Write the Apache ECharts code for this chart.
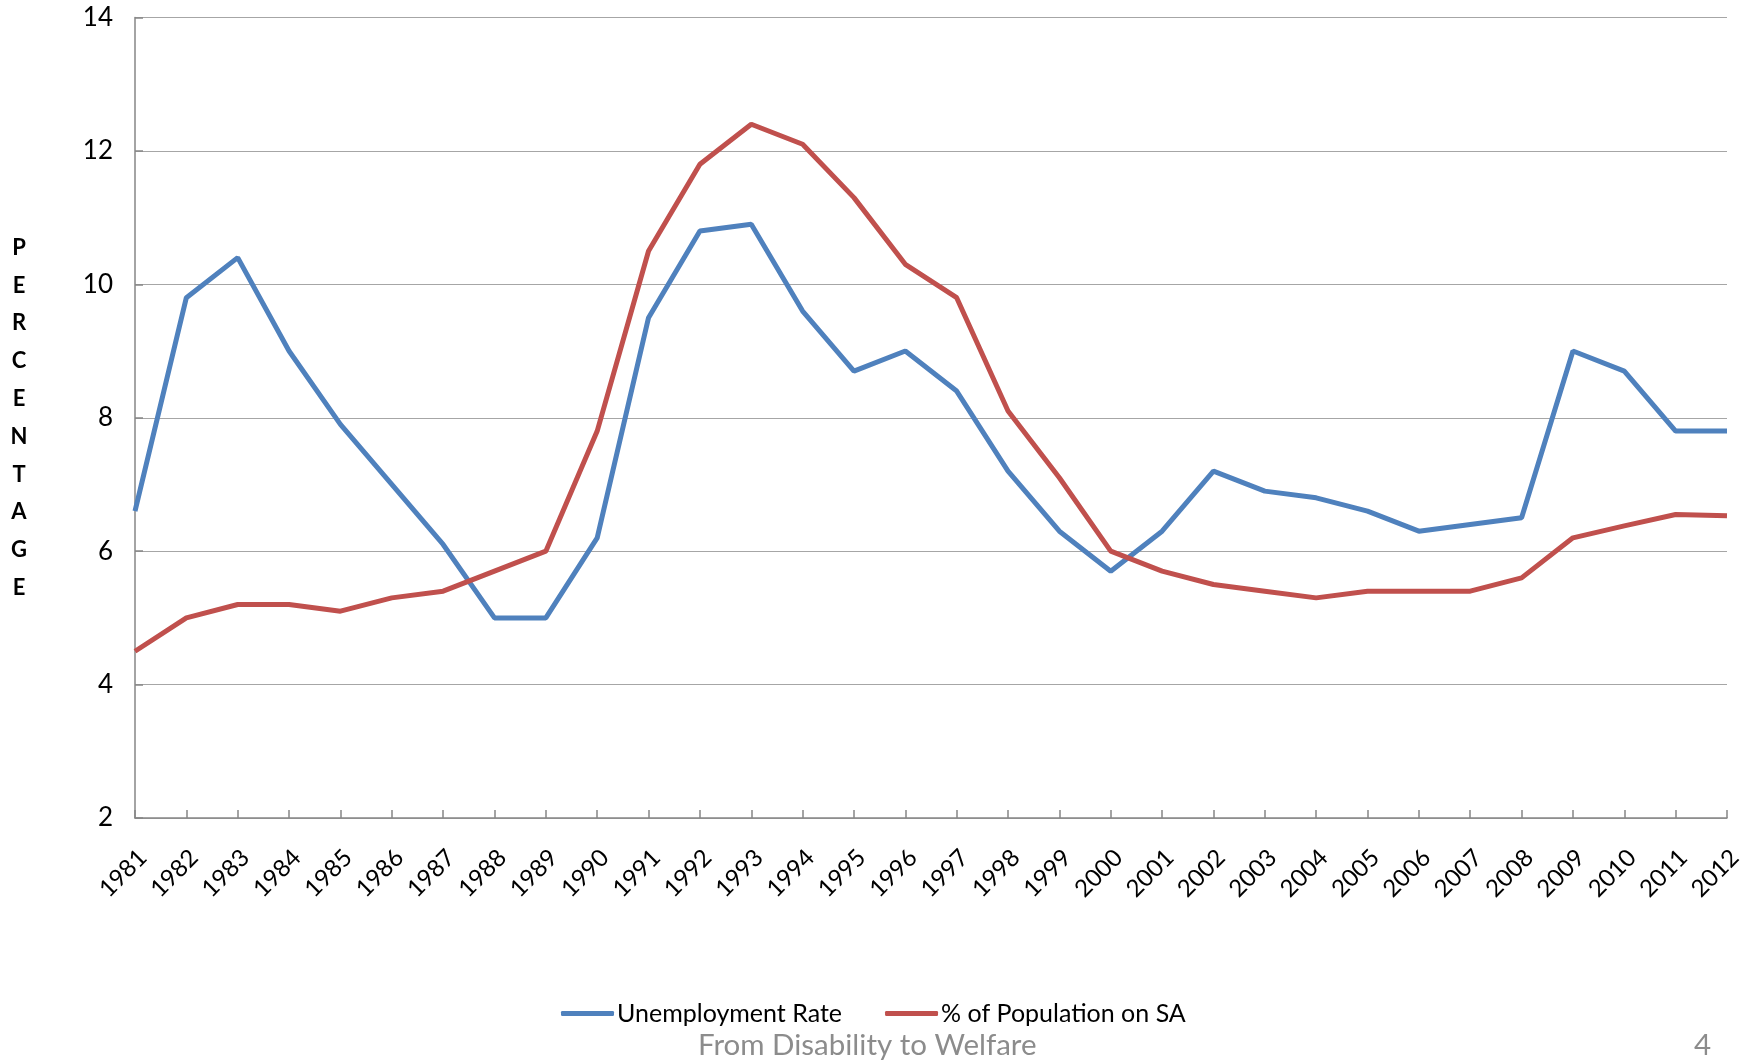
<!DOCTYPE html>
<html>
<head>
<meta charset="utf-8">
<script src="https://cdn.jsdelivr.net/npm/echarts@6/dist/echarts.min.js"></script>
<style>
html,body{margin:0;padding:0;background:#fff;}
#chart{width:1744px;height:1061px;}
</style>
</head>
<body>
<div id="chart"></div>
<script>
const years = ['1981','1982','1983','1984','1985','1986','1987','1988','1989','1990','1991','1992','1993','1994','1995','1996','1997','1998','1999','2000','2001','2002','2003','2004','2005','2006','2007','2008','2009','2010','2011','2012'];
const unemployment = [6.6,9.8,10.4,9.0,7.9,7.0,6.1,5.0,5.0,6.2,9.5,10.8,10.9,9.6,8.7,9.0,8.4,7.2,6.3,5.7,6.3,7.2,6.9,6.8,6.6,6.3,6.4,6.5,9.0,8.7,7.8,7.8];
const populationSA = [4.5,5.0,5.2,5.2,5.1,5.3,5.4,5.7,6.0,7.8,10.5,11.8,12.4,12.1,11.3,10.3,9.8,8.1,7.1,6.0,5.7,5.5,5.4,5.3,5.4,5.4,5.4,5.6,6.2,6.38,6.55,6.53];
const yTicks = {min: 2, max: 14, interval: 2};
const FONT = 'Lato, "Open Sans", sans-serif';

const chart = echarts.init(document.getElementById('chart'));
chart.setOption({
  backgroundColor: '#ffffff',
  animation: false,
  textStyle: {fontFamily: FONT},
  grid: {left: 135, right: 17, top: 17.5, bottom: 243, containLabel: false, outerBoundsMode: 'none'},
  legend: {
    left: 556, top: 996,
    icon: 'roundRect',
    itemWidth: 53, itemHeight: 5,
    itemGap: 43,
    textStyle: {fontFamily: FONT, fontSize: 25, color: '#000', padding: [0,0,0,-2]},
    data: ['Unemployment Rate', '% of Population on SA']
  },
  xAxis: {
    type: 'category',
    data: years,
    boundaryGap: false,
    axisLine: {lineStyle: {color: '#868686', width: 1.5}},
    axisTick: {inside: true, length: 8, alignWithLabel: true, lineStyle: {color: '#868686', width: 1.5}},
    axisLabel: {rotate: 45, interval: 0, margin: 28, fontSize: 24, color: '#000', fontFamily: FONT,
      verticalAlign: 'top', lineHeight: 22},
    splitLine: {show: false}
  },
  yAxis: {
    type: 'value',
    min: yTicks.min, max: yTicks.max, interval: yTicks.interval,
    name: 'P\nE\nR\nC\nE\nN\nT\nA\nG\nE',
    nameLocation: 'middle',
    nameRotate: 0,
    nameGap: 116,
    nameTextStyle: {fontSize: 22, fontWeight: 'bold', color: '#000', lineHeight: 37.8, fontFamily: FONT, align: 'center'},
    axisLine: {show: true, lineStyle: {color: '#868686', width: 1.5}},
    axisTick: {show: true, inside: true, length: 8, lineStyle: {color: '#868686', width: 1.5}},
    axisLabel: {fontSize: 26, color: '#000', margin: 22, fontFamily: FONT},
    splitLine: {lineStyle: {color: '#a6a6a6', width: 1.2}}
  },
  series: [
    {
      name: 'Unemployment Rate', type: 'line', data: unemployment,
      symbol: 'none', smooth: false,
      lineStyle: {color: '#4F81BD', width: 5},
      itemStyle: {color: '#4F81BD'}
    },
    {
      name: '% of Population on SA', type: 'line', data: populationSA,
      symbol: 'none', smooth: false,
      lineStyle: {color: '#C0504D', width: 5},
      itemStyle: {color: '#C0504D'}
    }
  ],
  graphic: [
    {type: 'text', left: 698, top: 1030, style: {text: 'From Disability to Welfare', fontSize: 29.5, fill: '#8c8c8c', fontFamily: FONT}},
    {type: 'text', left: 1694, top: 1030, style: {text: '4', fontSize: 29.5, fill: '#8c8c8c', fontFamily: FONT}}
  ]
});
</script>
</body>
</html>
